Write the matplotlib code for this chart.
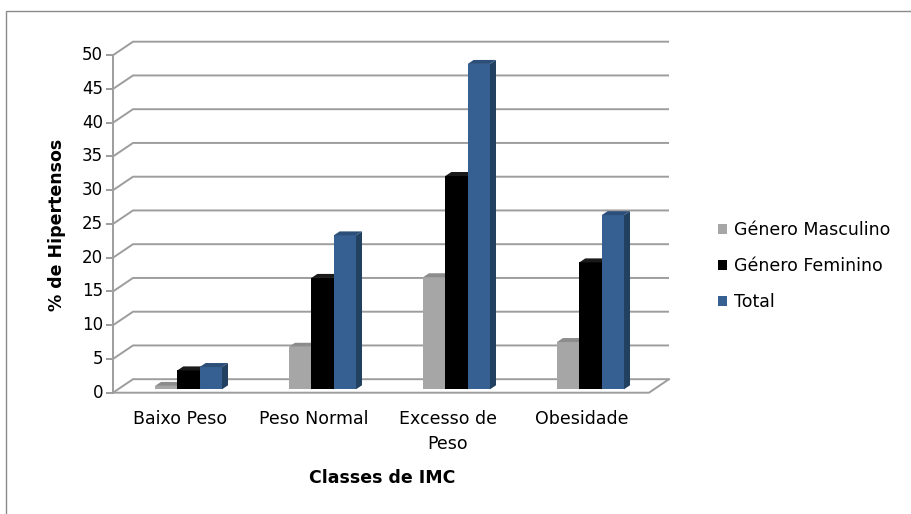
import matplotlib
matplotlib.use("Agg")
import matplotlib.pyplot as plt
from matplotlib.patches import Polygon, Patch, Rectangle

plt.rcParams['font.family'] = ['DejaVu Sans']

# Data: % of hypertensive patients per BMI class
categories = ["Baixo Peso", "Peso Normal", "Excesso de\nPeso", "Obesidade"]
series_names = ["Género Masculino", "Género Feminino", "Total"]
masculino = [0.5, 6.3, 16.6, 7.0]
feminino = [2.8, 16.5, 31.6, 18.8]
total = [3.3, 22.8, 48.2, 25.8]
y_ticks = [0, 5, 10, 15, 20, 25, 30, 35, 40, 45, 50]

series = [masculino, feminino, total]
front_colors = ["#a6a6a6", "#000000", "#376092"]
side_colors = ["#7f7f7f", "#000000", "#22405f"]
top_colors = ["#8c8c8c", "#1a1a1a", "#2c4f79"]

W, H = 912, 514
fig = plt.figure(figsize=(W / 100, H / 100), dpi=100)
ax = fig.add_axes([0, 0, 1, 1])

# data <-> pixel geometry (front plane: x=-0.5..3.5, y=0..50)
px_x, px_y = 134.0, 6.75
x0_px, y0_px = 113.0, 392.7
ax.set_xlim(-0.5 - x0_px / px_x, -0.5 + (W - x0_px) / px_x)
ax.set_ylim(-(H - y0_px) / px_y, y0_px / px_y)
ax.axis("off")

# oblique depth of the chart box and of the bars
DX, DY = 20 / px_x, 13.5 / px_y
BX, BY = 8.5 / px_x, 3.4 / px_y          # bar front-face offset
SX, SY = 6 / px_x, 4 / px_y              # bar depth
bw = 1.0 / 6

grid_c = "#9d9d9d"
x_left, x_right = -0.5, len(categories) - 0.5

# back wall gridlines with their diagonal links to the front axis
for v in y_ticks:
    ax.plot([x_left, x_left + DX, x_right + DX], [v, v + DY, v + DY],
            color=grid_c, lw=1.4, zorder=1, solid_capstyle="butt")
    ax.plot([x_left - 6 / px_x, x_left], [v, v], color=grid_c, lw=1.4, zorder=1)

# floor outline and front vertical axis
ax.plot([x_left, x_right, x_right + DX], [0, 0, DY], color=grid_c, lw=1.4, zorder=1)
ax.plot([x_left, x_left], [0, y_ticks[-1]], color=grid_c, lw=1.4, zorder=1)

# y tick labels
for v in y_ticks:
    ax.text(x_left - 10 / px_x, v, str(v), ha="right", va="center",
            fontsize=12, color="#000000")

# 3D-looking columns
for i in range(len(categories)):
    for k, vals in enumerate(series):
        h = vals[i]
        xl = i - 0.25 + k * bw + BX
        xr = xl + bw
        yb = BY
        yt = BY + h
        z = 3 + k + 3 * i
        ax.add_patch(Polygon([(xl, yb), (xr, yb), (xr, yt), (xl, yt)],
                             closed=True, facecolor=front_colors[k],
                             edgecolor="none", zorder=z))
        ax.add_patch(Polygon([(xr, yb), (xr + SX, yb + SY), (xr + SX, yt + SY), (xr, yt)],
                             closed=True, facecolor=side_colors[k],
                             edgecolor="none", zorder=z))
        ax.add_patch(Polygon([(xl, yt), (xr, yt), (xr + SX, yt + SY), (xl + SX, yt + SY)],
                             closed=True, facecolor=top_colors[k],
                             edgecolor="none", zorder=z))

# category labels
for i, c in enumerate(categories):
    ax.text(i, -2.6, c, ha="center", va="top", fontsize=12.5,
            linespacing=1.45, color="#000000")

# axis titles
ax.text(1.507, -12.64, "Classes de IMC", ha="center", va="center",
        fontsize=12.5, fontweight="bold")
ax.text(-0.918, 24.84, "% de Hipertensos", ha="center", va="center",
        fontsize=12.5, fontweight="bold", rotation=90)

# legend
handles = [Patch(facecolor=front_colors[k], edgecolor="none", label=series_names[k])
           for k in range(3)]
fig.legend(handles=handles, loc="center left", bbox_to_anchor=(718 / W, (H - 266) / H),
           frameon=False, fontsize=12.5, handlelength=0.5, handleheight=0.5,
           handletextpad=0.4, labelspacing=1.05, borderpad=0, borderaxespad=0)

# chart-area border
fig.patches.append(Rectangle((6 / W, -0.01), 1.0, 1 - 11 / H + 0.01,
                             transform=fig.transFigure, fill=False,
                             edgecolor="#8a8a8a", lw=1.0))

fig.savefig("out.png", dpi=100)
